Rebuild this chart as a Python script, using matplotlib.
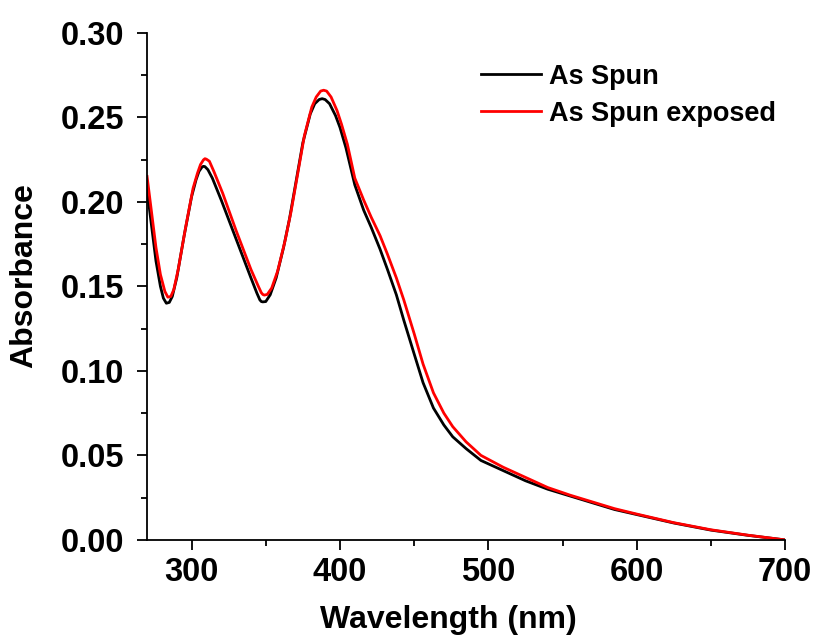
import matplotlib
matplotlib.use("Agg")
import matplotlib.pyplot as plt
from matplotlib.ticker import MultipleLocator, FormatStrFormatter

plt.rcParams["font.family"] = ["Liberation Sans", "DejaVu Sans"]
plt.rcParams["font.weight"] = "bold"

# As Spun (black)
wl_spun = [270, 273, 276, 279, 281, 283, 285, 287, 290, 295, 300, 303, 305, 307,
           308, 309, 311, 314, 320, 330, 340, 344, 346, 347, 348, 350, 353, 357,
           362, 366, 370, 375, 380, 383, 386, 388, 390, 393, 397, 400, 404, 410,
           416, 421, 427, 432, 438, 443, 450, 456, 463, 470, 476, 485, 495, 510,
           525, 540, 555, 570, 585, 600, 625, 650, 675, 700]
abs_spun = [0.207, 0.186, 0.165, 0.150, 0.143, 0.140, 0.1405, 0.144, 0.155, 0.180,
            0.203, 0.213, 0.218, 0.2205, 0.221, 0.2208, 0.219, 0.214, 0.201, 0.178,
            0.155, 0.146, 0.142, 0.141, 0.1408, 0.141, 0.145, 0.155, 0.173, 0.190,
            0.210, 0.235, 0.252, 0.258, 0.2605, 0.261, 0.2605, 0.258, 0.251, 0.244,
            0.232, 0.210, 0.195, 0.185, 0.172, 0.160, 0.145, 0.130, 0.110, 0.093,
            0.078, 0.068, 0.061, 0.054, 0.047, 0.041, 0.035, 0.030, 0.026, 0.022,
            0.018, 0.015, 0.010, 0.0058, 0.0027, 0.0]

# As Spun exposed (red)
wl_exp = [270, 273, 276, 279, 282, 284, 286, 288, 291, 296, 301, 304, 306, 308,
          309, 310, 312, 315, 321, 330, 340, 345, 347, 348, 349, 351, 354, 358,
          363, 367, 371, 376, 381, 384, 387, 389, 391, 394, 398, 401, 405, 410,
          416, 421, 427, 432, 438, 443, 450, 456, 463, 470, 476, 485, 495, 510,
          525, 540, 555, 570, 585, 600, 625, 650, 675, 700]
abs_exp = [0.215, 0.194, 0.173, 0.157, 0.147, 0.1436, 0.144, 0.148, 0.160, 0.185,
           0.208, 0.217, 0.222, 0.2248, 0.2255, 0.2252, 0.224, 0.218, 0.205, 0.183,
           0.160, 0.150, 0.1462, 0.1452, 0.1448, 0.1452, 0.149, 0.159, 0.177, 0.194,
           0.214, 0.239, 0.256, 0.262, 0.2655, 0.266, 0.2655, 0.262, 0.254, 0.246,
           0.234, 0.214, 0.201, 0.191, 0.180, 0.169, 0.155, 0.142, 0.122, 0.104,
           0.087, 0.075, 0.067, 0.058, 0.050, 0.043, 0.037, 0.031, 0.0265, 0.0225,
           0.0185, 0.0153, 0.0102, 0.006, 0.0028, 0.0]

fig = plt.figure(figsize=(8.17, 6.42), dpi=100)
ax = fig.add_axes([0.18, 0.159, 0.781, 0.79])

ax.plot(wl_spun, abs_spun, color="black", lw=2.0, label="As Spun")
ax.plot(wl_exp, abs_exp, color="#ff0000", lw=2.0, label="As Spun exposed")

ax.set_xlim(270, 700)
ax.set_ylim(0, 0.30)
ax.xaxis.set_major_locator(MultipleLocator(100))
ax.xaxis.set_minor_locator(MultipleLocator(50))
ax.yaxis.set_major_locator(MultipleLocator(0.05))
ax.yaxis.set_minor_locator(MultipleLocator(0.025))
ax.yaxis.set_major_formatter(FormatStrFormatter("%.2f"))

for side in ["top", "right"]:
    ax.spines[side].set_visible(False)
for side in ["left", "bottom"]:
    ax.spines[side].set_linewidth(1.3)

ax.tick_params(which="major", direction="out", length=7.5, width=1.3, labelsize=23.5)
ax.tick_params(which="minor", direction="out", length=4.5, width=1.3)
ax.tick_params(axis="y", which="major", pad=9)
ax.tick_params(axis="x", which="major", pad=5)
for lab in ax.get_xticklabels() + ax.get_yticklabels():
    lab.set_fontweight("bold")

ax.set_xlabel("Wavelength (nm)", fontsize=23, fontweight="bold")
ax.set_ylabel("Absorbance", fontsize=23, fontweight="bold")
ax.xaxis.set_label_coords(0.473, -0.128)
ax.yaxis.set_label_coords(-0.169, 0.521)

leg = ax.legend(loc="upper left", bbox_to_anchor=(0.498, 0.971), frameon=False,
                fontsize=19.5, handlelength=2.2, handletextpad=0.3, labelspacing=0.4,
                borderaxespad=0.2)
for t in leg.get_texts():
    t.set_fontweight("bold")

fig.savefig("out.png", dpi=100)
